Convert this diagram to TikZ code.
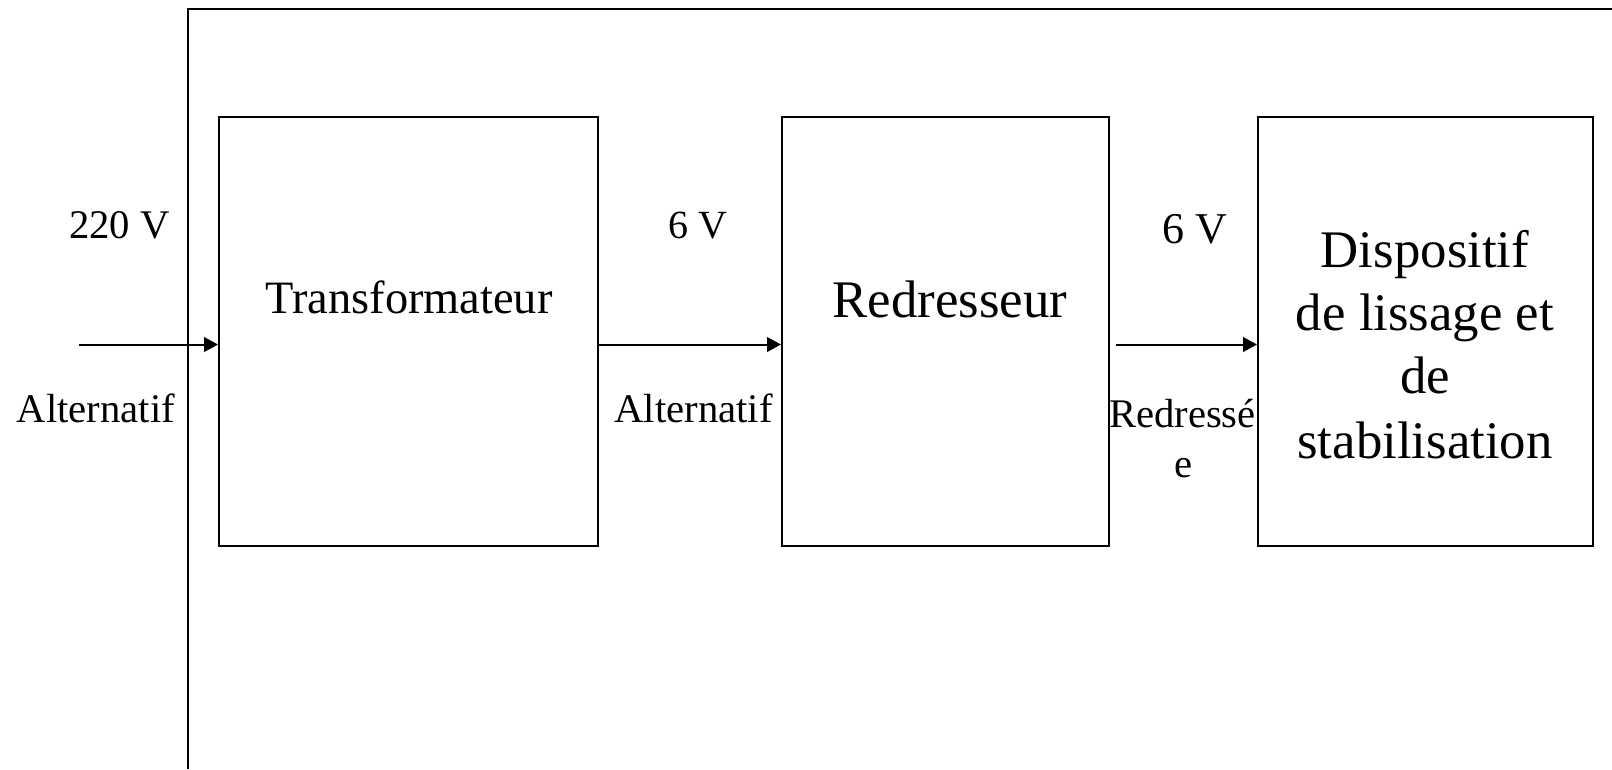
\documentclass[tikz,border=0pt]{standalone}
\usepackage{fontspec}
\setmainfont{Liberation Serif}
\usetikzlibrary{arrows.meta}
\begin{document}
\begin{tikzpicture}[x=0.75pt,y=-0.75pt,
  line width=1.5pt,
  txt/.style={inner sep=0pt, anchor=base, font=\fontsize{30.5pt}{36pt}\selectfont},
  bigtxt/.style={txt, font=\fontsize{39.6pt}{46pt}\selectfont},
  flow/.style={line width=1.5pt, -{Triangle[length=10.5pt,width=11pt]}}
]
\useasboundingbox (0,0) rectangle (1612,769);
% outer frame (only its top and left sides fall inside the page)
\coordinate (fbl) at (188,769);
\coordinate (ftl) at (188,8.5);
\coordinate (ftr) at (1612,8.5);
\draw (fbl) -- (ftl) -- (ftr);

% blocks
\draw (219,117) rectangle (598,546);
\node[inner sep=0pt, minimum width=379*0.75pt, minimum height=429*0.75pt] (T) at (408.5,331.5) {};
\draw (782,117) rectangle (1109,546);
\node[inner sep=0pt, minimum width=327*0.75pt, minimum height=429*0.75pt] (R) at (945.5,331.5) {};
\draw (1258,117) rectangle (1593,546);
\node[inner sep=0pt, minimum width=335*0.75pt, minimum height=429*0.75pt] (D) at (1425.5,331.5) {};

% block titles
\node[txt, font=\fontsize{34.8pt}{40pt}\selectfont] (tT) at (409,313) {Transformateur};
\node[bigtxt] (tR) at (950,317) {Redresseur};
\node[bigtxt] (tD1) at (1425,267) {Dispositif};
\node[bigtxt] (tD2) at (1425,330) {de lissage et};
\node[bigtxt] (tD3) at (1425,393) {de};
\node[bigtxt] (tD4) at (1425,458) {stabilisation};

% signal arrows
\coordinate (in) at (79,344.5);
\coordinate (out) at (1116,344.5);
\draw[flow] (in) -- (in -| T.west);
\draw[flow] (T.east |- in) -- (R.west |- in);
\draw[flow] (out) -- (out -| D.west);

% signal labels
\node[txt] (v1) at (119.5,238) {220 V};
\node[txt] (a1) at (96,422) {Alternatif};
\node[txt, font=\fontsize{30pt}{36pt}\selectfont] (v2) at (697.5,238) {6 V};
\node[txt] (a2) at (693.5,422) {Alternatif};
\node[txt, font=\fontsize{33pt}{38pt}\selectfont] (v3) at (1194.5,243) {6 V};
\node[txt, anchor=base west] (r1) at (1108,427) {Redressé};
\node[txt] (r2) at (1184,477) {e};
\end{tikzpicture}
\end{document}
